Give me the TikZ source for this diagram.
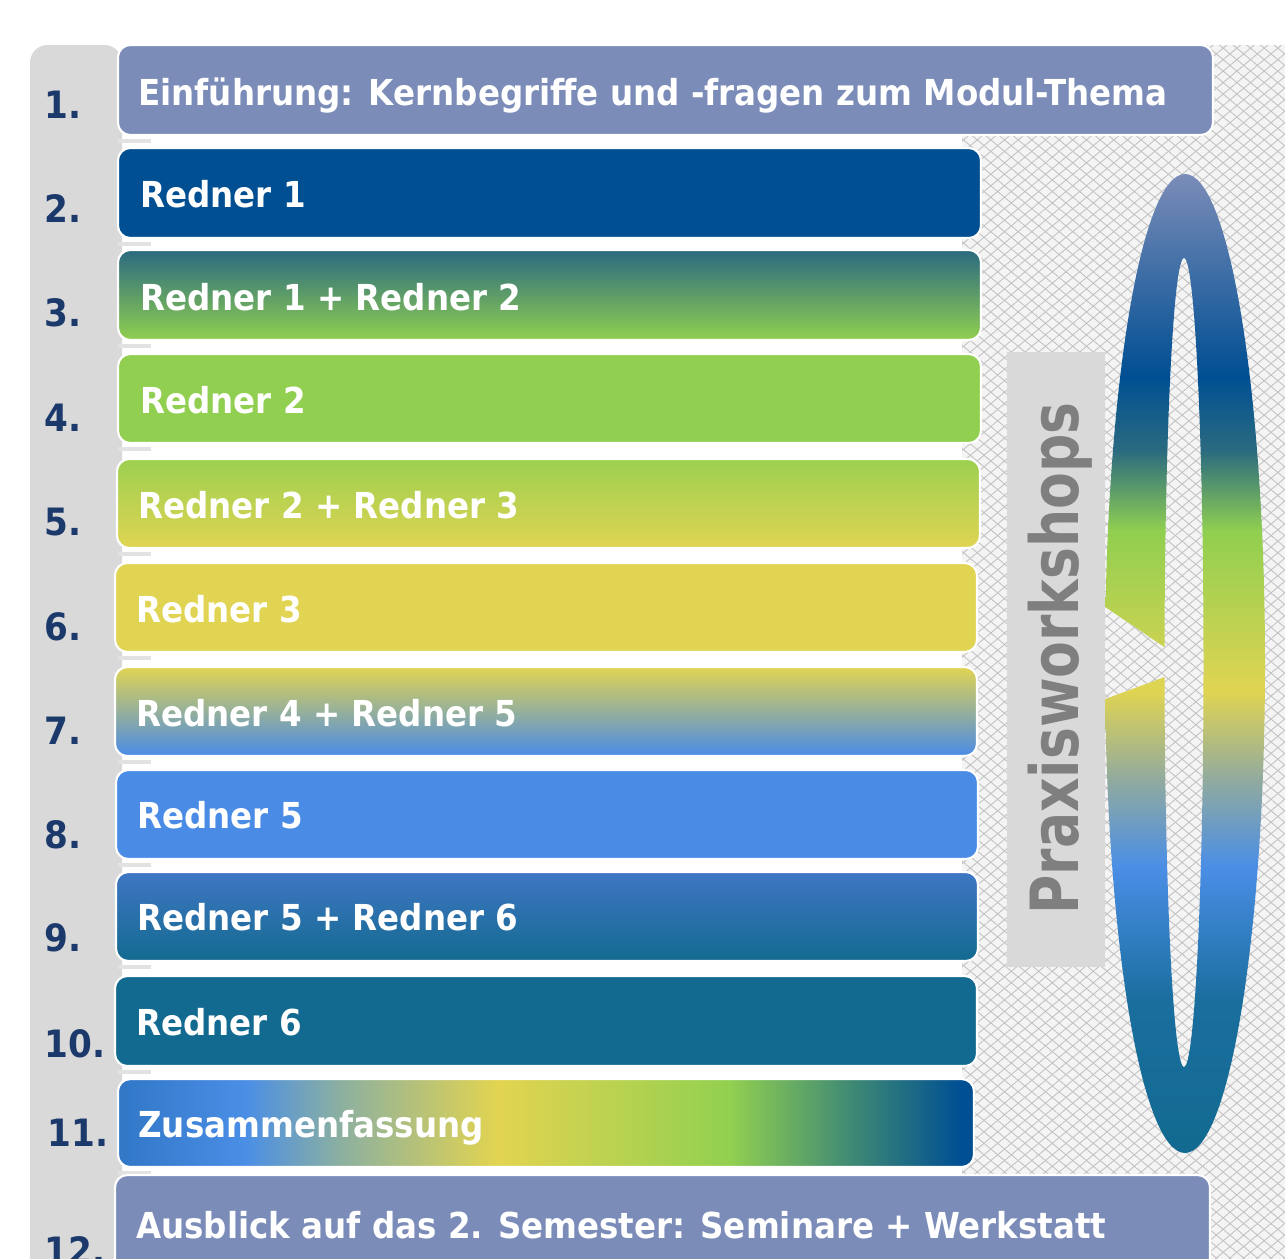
\documentclass[tikz,border=0pt]{standalone}
\usepackage{fontspec}
\setmainfont{DejaVu Sans}
\usepackage{graphicx}
\usetikzlibrary{patterns.meta}
\definecolor{slate}{HTML}{7B8CB8}
\definecolor{dblue}{HTML}{004F93}
\definecolor{lgreen}{HTML}{91CF50}
\definecolor{yel}{HTML}{E0D452}
\definecolor{lblue}{HTML}{4A8BE6}
\definecolor{teal}{HTML}{136A90}
\definecolor{numblue}{HTML}{1B3A6B}
\definecolor{colgray}{HTML}{D9D9D9}
\definecolor{ledge}{HTML}{E2E2E2}
\definecolor{praxgray}{HTML}{7F7F7F}
\definecolor{texbg}{HTML}{F4F4F4}
\definecolor{texline}{HTML}{C2C2C2}
% ring colours
\definecolor{rA}{HTML}{126A90}
\definecolor{rB}{HTML}{1A6E9E}
\definecolor{rC}{HTML}{4A8EE6}
\definecolor{rD}{HTML}{90AAA0}
\definecolor{rE}{HTML}{E0D452}
\definecolor{rF}{HTML}{90CF50}
\definecolor{rG}{HTML}{2A6A80}
\definecolor{rH}{HTML}{004F93}
\definecolor{rI}{HTML}{7B8CB8}
% summary colours
\definecolor{sA}{HTML}{3177C6}
\definecolor{sB}{HTML}{4A8EE6}
\definecolor{sC}{HTML}{8CB0A0}
\definecolor{sD}{HTML}{E2D450}
\definecolor{sE}{HTML}{92D050}
\definecolor{sF}{HTML}{3F8A74}
\definecolor{sG}{HTML}{004F93}
\pgfdeclareverticalshading{ringshade}{100bp}{color(0bp)=(rA); color(25bp)=(rA); color(32.8bp)=(rB); color(39.6bp)=(rC); color(44bp)=(rD); color(48.6bp)=(rE); color(56.8bp)=(rF); color(60.9bp)=(rG); color(64.7bp)=(rH); color(75bp)=(rI); color(100bp)=(rI)}
\pgfdeclarehorizontalshading{sumshade}{100bp}{color(0bp)=(sA); color(25bp)=(sA); color(32.4bp)=(sB); color(38bp)=(sC); color(47.2bp)=(sD); color(60.7bp)=(sE); color(67.8bp)=(sF); color(74.2bp)=(sG); color(100bp)=(sG)}
\newcommand{\tallt}[1]{\scalebox{1}[1.1]{#1}}
\begin{document}
\begin{tikzpicture}[x=0.02cm,y=-0.02cm,
  box/.style={rounded corners=7pt, draw=white, line width=1.2pt},
  btext/.style={anchor=base west, inner sep=0pt, text=white, font=\fontsize{18.5}{22}\selectfont\bfseries},
  num/.style={anchor=base west, inner sep=0pt, text=numblue, font=\fontsize{19.5}{22}\selectfont\bfseries},
  texture/.style={fill=texbg,
    postaction={pattern={Lines[angle=40,distance=5pt,line width=0.5pt]}, pattern color=texline},
    postaction={pattern={Lines[angle=-40,distance=5pt,line width=0.5pt]}, pattern color=texline}}]
\clip (0,0) rectangle (1285,1258);
\fill[white] (0,0) rectangle (1285,1258);
% background areas
\fill[colgray, rounded corners=10pt] (30,1300) -- (30,45) -- (122,45) -- (122,1300) -- cycle;
\path[texture] (962,45) rectangle (1290,1300);
% ledges
\foreach \yy in {135,238,340,443,548,652,756,859,961,1066,1167}
  \fill[ledge] (118,\yy+4) rectangle (151,\yy+8);
% boxes
\path[box, fill=slate] (118,45) rectangle (1213,135);
\path[box, fill=dblue] (118,148) rectangle (981,238);
\path[box, top color=rG, bottom color=lgreen] (118,250) rectangle (981,340);
\path[box, fill=lgreen] (118,354) rectangle (981,443);
\path[box, top color=lgreen!85!yel, bottom color=yel] (117,459) rectangle (980,548);
\path[box, fill=yel] (115,563) rectangle (977,652);
\path[box, top color=yel, bottom color=lblue] (115,667) rectangle (977,756);
\path[box, fill=lblue] (116,770) rectangle (978,859);
\path[box, top color=lblue!85!black, bottom color=teal] (116,872) rectangle (978,961);
\path[box, fill=teal] (115,976) rectangle (977,1066);
\path[box, shading=sumshade] (118,1079) rectangle (974,1167);
\path[box, fill=slate] (115,1175) rectangle (1210,1300);
% box texts
\node[btext] (t1) at (138,105) {\tallt{Einführung: Kernbegriffe und -fragen zum Modul-Thema}};
\node[btext] (t2) at (140,207) {\tallt{Redner 1}};
\node[btext] (t3) at (140,310) {\tallt{Redner 1 + Redner 2}};
\node[btext] (t4) at (140,413) {\tallt{Redner 2}};
\node[btext] (t5) at (138,518) {\tallt{Redner 2 + Redner 3}};
\node[btext] (t6) at (136,622) {\tallt{Redner 3}};
\node[btext] (t7) at (136,726) {\tallt{Redner 4 + Redner 5}};
\node[btext] (t8) at (137,828) {\tallt{Redner 5}};
\node[btext] (t9) at (137,930) {\tallt{Redner 5 + Redner 6}};
\node[btext] (t10) at (136,1035) {\tallt{Redner 6}};
\node[btext] (t11) at (138,1137) {\tallt{Zusammenfassung}};
\node[btext] (t12) at (136,1238) {\tallt{Ausblick auf das 2. Semester: Seminare + Werkstatt}};
% numbers
\node[num] (n1) at (44,118) {\tallt{1.}};
\node[num] (n2) at (44,222) {\tallt{2.}};
\node[num] (n3) at (44,326) {\tallt{3.}};
\node[num] (n4) at (44,431) {\tallt{4.}};
\node[num] (n5) at (44,535) {\tallt{5.}};
\node[num] (n6) at (44,640) {\tallt{6.}};
\node[num] (n7) at (44,744) {\tallt{7.}};
\node[num] (n8) at (44,848) {\tallt{8.}};
\node[num] (n9) at (44,951) {\tallt{9.}};
\node[num] (n10) at (44,1057) {\tallt{10.}};
\node[num] (n11) at (47,1146) {\tallt{11.}};
\node[num] (n12) at (44,1264) {\tallt{12.}};
% Praxisworkshops panel
\fill[colgray] (1007,352) rectangle (1105,967);
\node[anchor=base west, rotate=90, inner sep=0pt, text=praxgray, font=\fontsize{30.5}{32}\selectfont\bfseries] (px) at (1078,915) {\scalebox{1}[1.24]{Praxisworkshops}};
% ring
\shade[shading=ringshade, even odd rule] (1185,663.5) ellipse [x radius=80, y radius=489.5] (1184,662.5) ellipse [x radius=19.5, y radius=404.5];
% notch
\path[texture] (1105,607) -- (1167,649) -- (1167,676) -- (1105,699) -- cycle;
\end{tikzpicture}
\end{document}
